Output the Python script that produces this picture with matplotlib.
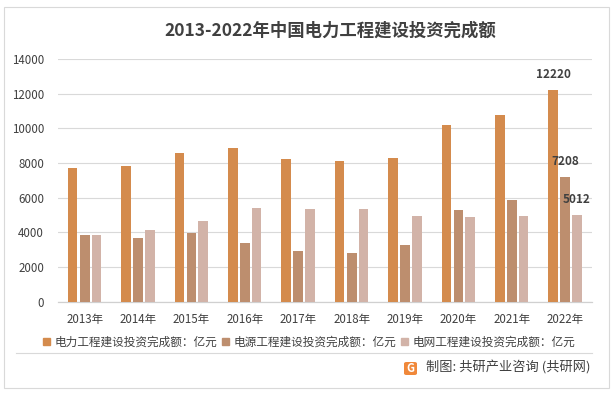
import numpy as np
import matplotlib.pyplot as plt
from matplotlib.patches import Rectangle, FancyBboxPatch
from matplotlib.lines import Line2D

plt.rcParams['font.family'] = ['Noto Sans CJK SC', 'DejaVu Sans']

# data (亿元)
years = ['2013年', '2014年', '2015年', '2016年', '2017年',
         '2018年', '2019年', '2020年', '2021年', '2022年']
power_total = [7728, 7805, 8576, 8840, 8239, 8127, 8295, 10189, 10786, 12220]
power_source = [3872, 3686, 3936, 3408, 2900, 2787, 3283, 5292, 5870, 7208]
power_grid = [3856, 4119, 4640, 5431, 5339, 5340, 4950, 4896, 4916, 5012]

series_names = ['电力工程建设投资完成额：亿元',
                '电源工程建设投资完成额：亿元',
                '电网工程建设投资完成额：亿元']
colors = ['#D48B4D', '#BD8E6E', '#D2B3A8']

W, H = 614, 394
fig = plt.figure(figsize=(W / 100, H / 100), dpi=100)

# outer frame
fig.patches.append(Rectangle((4 / W, 6 / H), 605 / W, 381 / H, transform=fig.transFigure,
                             fill=False, edgecolor='#d9d9d9', linewidth=0.8))

ax = fig.add_axes([58 / W, 1 - 301.7 / H, 534 / W, 242.7 / H])
ax.set_facecolor('none')

x = np.arange(len(years))
bw = 0.18
offsets = [-0.225, 0, 0.22]
data = [power_total, power_source, power_grid]
for vals, off, c in zip(data, offsets, colors):
    ax.bar(x + off, vals, width=bw, color=c, zorder=3)

# labels on last year only
for vals, off in zip(data, offsets):
    ax.text(x[-1] + off, vals[-1] + 500, f'{vals[-1]}', ha='center', va='bottom',
            fontsize=8.5, fontweight='bold', color='#404040', zorder=4)

ax.set_xlim(-0.5, len(years) - 0.5)
ax.set_ylim(0, 14000)
ax.set_yticks(np.arange(0, 14001, 2000))
ax.grid(axis='y', color='#d9d9d9', linewidth=0.8, zorder=0)
ax.set_axisbelow(True)
for s in ['left', 'right', 'top']:
    ax.spines[s].set_visible(False)
ax.spines['bottom'].set_color('#d0d0d0')
ax.spines['bottom'].set_linewidth(0.9)
ax.tick_params(axis='both', length=0, labelsize=8.3, colors='#404040')
ax.tick_params(axis='y', pad=10)
ax.tick_params(axis='x', pad=8)
ax.set_xticks(x)
ax.set_xticklabels(years)
for lab in ax.get_xticklabels() + ax.get_yticklabels():
    lab.set_fontweight('medium')

# title
fig.text(330 / W, 1 - 31 / H, '2013-2022年中国电力工程建设投资完成额', ha='center', va='center',
         fontsize=12.5, fontweight='bold', color='#404040')

# legend
handles = [Rectangle((0, 0), 1, 1, color=c) for c in colors]
fig.legend(handles, series_names, loc='center', bbox_to_anchor=(309 / W, 1 - 342 / H),
           ncol=3, frameon=False, fontsize=8.4, handlelength=0.6, handleheight=0.6,
           handletextpad=0.35, columnspacing=0.45, labelcolor='#404040')

# separator line
fig.lines.append(Line2D([16 / W, 592 / W], [1 - 353 / H, 1 - 353 / H], transform=fig.transFigure,
                        color='#d9d9d9', linewidth=0.8))

# footer with small logo
fig.patches.append(FancyBboxPatch((404 / W, 1 - 375 / H), 13 / W, 13 / H, transform=fig.transFigure,
                                  boxstyle='round,pad=0,rounding_size=0.004', facecolor='#F0883A',
                                  edgecolor='none'))
fig.text(410.5 / W, 1 - 368.5 / H, 'G', ha='center', va='center', fontsize=8,
         fontweight='bold', color='white')
fig.text(590 / W, 1 - 368 / H, '制图: 共研产业咨询 (共研网)', ha='right', va='center',
         fontsize=9.5, color='#404040')

fig.savefig('out.png', dpi=100)
